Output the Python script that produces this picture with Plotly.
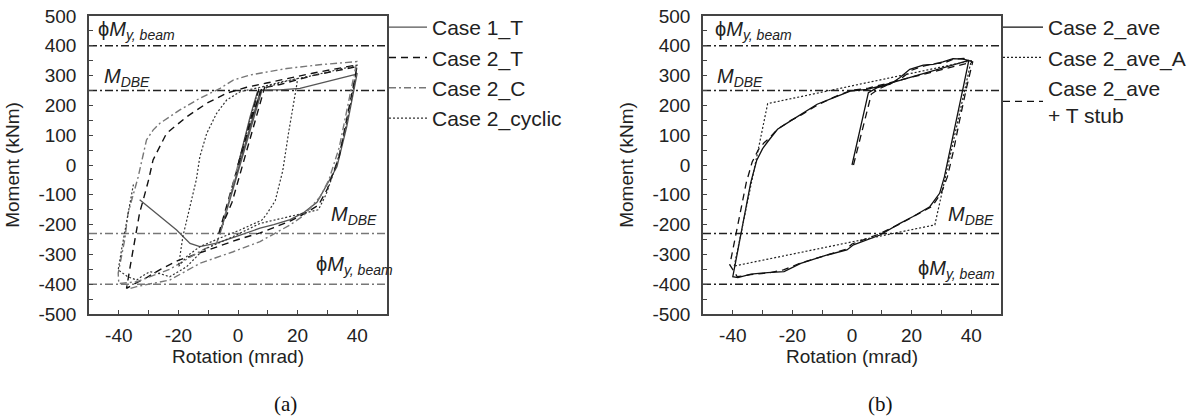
import plotly.graph_objects as go

# ---------------- Panel (a) data ----------------
case1T_x = [0, 2, 4, 6.5, 8, 6, 3, 0, -3, -6, -4, -1, 2, 5, 7.5, 10, 14, 20.8, 30, 38.8, 40,
            38, 36.5, 33.2, 28.7, 26.5, 22, 17.5, 12, 7.4, 0, -7.2, -12.8, -16.1, -20.6, -26.2, -33]
case1T_y = [0, 80, 160, 245, 250, 182, 80, -24, -127, -229, -158, -51, 55, 161, 250, 252, 252, 257, 280, 302, 308,
            206, 129, -6, -84, -125, -160, -183, -200, -212, -238, -262, -274, -263, -218, -173, -117]

case2T_x = [0, 2, 4.5, 7, 9, 7, 4, 1, -2, -6.5, -4.5, -1.5, 1.5, 4.5, 8, 10, 14.1, 25, 39.9,
            39, 37, 34, 30, 27, 22, 17.5, 12, 7.4, 0, -7, -12.8, -20, -26, -31, -35, -37.4,
            -36, -34.5, -33, -31.8, -30, -28.5, -24, -17.2, -10.5, -3.8, 2.9, 9.6, 14.1, 25, 39.9]
case2T_y = [0, 75, 170, 255, 262, 190, 85, -20, -125, -232, -160, -55, 50, 155, 258, 262, 270, 300, 330,
            280, 175, 30, -80, -135, -165, -188, -210, -228, -250, -275, -295, -320, -350, -380, -400, -414,
            -330, -240, -160, -117, -50, 17, 106, 162, 207, 241, 261, 275, 285, 308, 336]

case2C_x = [0, -3, -6, -7.2, -12.8, -22.9, -30, -34, -40, -40.2, -38, -36.9, -33.5, -30.7, -28.5, -26.2,
            -19.5, -12.8, -6, -1.6, 4, 9.6, 16.4, 28, 39.9, 38.5, 36.5, 34, 30.5, 27.6, 22, 17.5, 7.4,
            -1.6, -12.8, -22.9, -34, -36.5]
case2C_y = [0, -115, -232, -262, -290, -350, -378, -392, -398, -363, -250, -162, -40, 84, 117, 140,
            185, 224, 257, 285, 302, 313, 324, 337, 347, 280, 180, 60, -50, -106, -170, -201, -257,
            -291, -330, -386, -408, -415]

cyclic_x = [0, 3, 6.5, 10, 15, 20, 19.7, 17, 15, 12.5, 9.6, 8, 0.7, -6, -12.8, -17, -20,
            -18.5, -16.1, -14, -12.8, -10.5, -7.2, -3.8, 0.7, 8, 15, 25, 40,
            38.5, 36, 33, 29.5, 27, 22, 17.5, 7.4, -1.6, -11.7, -17.2, -22.9, -26, -29.6, -32, -34,
            -37, -40.2, -39, -37, -35]
cyclic_y = [0, 115, 240, 262, 278, 290, 268, 110, -20, -120, -165, -185, -218, -245, -274, -305, -341,
            -240, -140, -50, 28, 106, 173, 218, 246, 262, 280, 300, 335,
            240, 120, 0, -100, -150, -162, -173, -196, -240, -285, -341, -375, -365, -358, -372, -386,
            -375, -352, -280, -170, -60]

# ---------------- Panel (b) data ----------------
ave_x = [0, 2, 4, 5.5, 8.3, 12.8, 16, 19.4, 23.9, 27.2, 30.5, 33.9, 37.2, 39.2,
         37.5, 35, 33, 31, 29.4, 26.1, 20.5, 16.1, 9.4, 0.5, -1.7, -8.3, -17.2, -22.8, -28.3, -33.9, -38.3, -40,
         -38, -36, -34, -32, -30, -28.3, -25, -20.6, -17.2, -11.7, -6.1, -0.6, 5, 10, 39.2]
ave_y = [0, 85, 170, 243, 259, 271, 293, 321, 335, 338, 346, 357, 355, 351,
         269, 150, 50, -40, -95, -140, -173, -196, -235, -268, -285, -302, -330, -358, -361, -366, -378, -375,
         -270, -165, -60, 15, 55, 78, 120, 148, 170, 204, 226, 248, 254, 266, 351]

tstub_x = [0.5, 2.5, 4.5, 6.5, 9, 13, 16.5, 20, 24, 27.5, 31, 34, 37.5, 40.5,
           38.5, 36, 34, 32, 30, 27, 21, 16, 9, 0, -2, -8, -17, -23, -28, -34, -38.5, -41,
           -39.5, -37.5, -35.5, -33.5, -31.5, -29.5, -28, -25, -20.5, -17, -11.5, -6, -0.5, 5.5, 15, 27, 40.5]
tstub_y = [0, 80, 160, 238, 255, 275, 290, 318, 332, 340, 343, 355, 358, 346,
           262, 145, 45, -40, -92, -138, -170, -198, -232, -265, -283, -300, -328, -352, -362, -368, -375, -335,
           -265, -160, -60, 10, 50, 75, 88, 120, 150, 168, 202, 228, 250, 258, 282, 312, 346]

aveA_x = [-39.5, -28.3, 40, 27.8, -39.5]
aveA_y = [-339, 206, 350, -201, -339]

# Reference levels (kNm)
ref_x = [-50, 50]
phiMy_pos, mdbe_pos, mdbe_neg, phiMy_neg = 400, 250, -230, -400

x_ticks = [-40, -20, 0, 20, 40]
x_ticktext = ["-40", "-20", "0", "20", "40"]
y_ticks = [-500, -400, -300, -200, -100, 0, 100, 200, 300, 400, 500]
y_ticktext = ["-500", "-400", "-300", "-200", "-100", "0", "100", "200", "300", "400", "500"]

FONT = "Liberation Sans, Arial, sans-serif"
fig = go.Figure()

def ref_line(xa, ya, yval, color):
    fig.add_trace(go.Scatter(x=ref_x, y=[yval, yval], mode="lines", xaxis=xa, yaxis=ya,
                             line=dict(color=color, width=1.5, dash="8px,3px,2px,3px"),
                             showlegend=False, hoverinfo="skip"))

# panel (a)
ref_line("x", "y", phiMy_pos, "#222")
ref_line("x", "y", mdbe_pos, "#222")
ref_line("x", "y", mdbe_neg, "#777")
ref_line("x", "y", phiMy_neg, "#777")

fig.add_trace(go.Scatter(x=case1T_x, y=case1T_y, name="Case 1_T", mode="lines", xaxis="x", yaxis="y",
                         line=dict(color="#555", width=1.3), legend="legend"))
fig.add_trace(go.Scatter(x=case2T_x, y=case2T_y, name="Case 2_T", mode="lines", xaxis="x", yaxis="y",
                         line=dict(color="#111", width=1.4, dash="7px,5px"), legend="legend"))
fig.add_trace(go.Scatter(x=case2C_x, y=case2C_y, name="Case 2_C", mode="lines", xaxis="x", yaxis="y",
                         line=dict(color="#777", width=1.4, dash="7px,3px,2px,3px"), legend="legend"))
fig.add_trace(go.Scatter(x=cyclic_x, y=cyclic_y, name="Case 2_cyclic", mode="lines", xaxis="x", yaxis="y",
                         line=dict(color="#333", width=1.2, dash="2px,2px"), legend="legend"))

# panel (b)
for v in [phiMy_pos, mdbe_pos, mdbe_neg, phiMy_neg]:
    ref_line("x2", "y2", v, "#222")

fig.add_trace(go.Scatter(x=ave_x, y=ave_y, name="Case 2_ave", mode="lines", xaxis="x2", yaxis="y2",
                         line=dict(color="#111", width=1.3), legend="legend2"))
fig.add_trace(go.Scatter(x=aveA_x, y=aveA_y, name="Case 2_ave_A", mode="lines", xaxis="x2", yaxis="y2",
                         line=dict(color="#222", width=1.2, dash="2px,2px"), legend="legend2"))
fig.add_trace(go.Scatter(x=tstub_x, y=tstub_y, name="Case 2_ave<br>+ T stub", mode="lines", xaxis="x2", yaxis="y2",
                         line=dict(color="#111", width=1.3, dash="7px,5px"), legend="legend2"))

axis_common = dict(showline=True, linecolor="#444", linewidth=1.5, mirror=True, ticks="inside",
                   ticklen=4, tickwidth=1.3, tickcolor="#444", showgrid=False, zeroline=False,
                   automargin=False,
                   tickfont=dict(family=FONT, size=19, color="#222"),
                   minor=dict(ticks="inside", ticklen=4, tickwidth=1.3, tickcolor="#444", showgrid=False))

xa = dict(axis_common, range=[-50, 50], tickvals=x_ticks, ticktext=x_ticktext, ticklabelstandoff=3,
          title=dict(text="Rotation (mrad)", font=dict(family=FONT, size=19, color="#222"), standoff=4))
xa["minor"] = dict(axis_common["minor"], dtick=10, tick0=0)
ya = dict(axis_common, range=[-500, 500], tickvals=y_ticks, ticktext=y_ticktext, ticklabelstandoff=7,
          title=dict(text="Moment (kNm)", font=dict(family=FONT, size=19, color="#222"), standoff=14))
ya["minor"] = dict(axis_common["minor"], dtick=50, tick0=0)

W, H = 1196, 416
def dom(p0, p1, total):
    return [p0 / total, p1 / total]

fig.update_layout(
    width=W, height=H, margin=dict(l=0, r=0, t=0, b=0, autoexpand=False),
    paper_bgcolor="white", plot_bgcolor="white",
    xaxis=dict(xa, domain=dom(89, 387, W), anchor="y"),
    yaxis=dict(ya, domain=[1 - 314 / H, 1 - 16 / H], anchor="x"),
    xaxis2=dict(xa, domain=dom(703, 1001, W), anchor="y2"),
    yaxis2=dict(ya, domain=[1 - 314 / H, 1 - 16 / H], anchor="x2"),
    legend=dict(x=384 / W, y=1 - 7 / H, xanchor="left", yanchor="top", bgcolor="rgba(0,0,0,0)",
                font=dict(family=FONT, size=21, color="#222"), tracegroupgap=0, itemwidth=38),
    legend2=dict(x=998 / W, y=1 - 7 / H, xanchor="left", yanchor="top", bgcolor="rgba(0,0,0,0)",
                 font=dict(family=FONT, size=21, color="#222"), tracegroupgap=0, itemwidth=40),
    showlegend=True,
)

ann_font = dict(family=FONT, size=20, color="#222")
phi_txt = "\u03d5<i>M</i><sub><i>y, beam</i></sub>"
mdbe_txt = "<i>M</i><sub><i>DBE</i></sub>"
anns = [
    ("x", "y", -47.5, 452, phi_txt),
    ("x", "y", -45.5, 292, mdbe_txt),
    ("x", "y", 30.5, -168, mdbe_txt),
    ("x", "y", 25.5, -336, phi_txt),
    ("x2", "y2", -46.5, 452, phi_txt),
    ("x2", "y2", -46, 292, mdbe_txt),
    ("x2", "y2", 31.5, -170, mdbe_txt),
    ("x2", "y2", 21.5, -350, phi_txt),
]
for xr, yr, ax_, ay_, t in anns:
    fig.add_annotation(x=ax_, y=ay_, xref=xr, yref=yr, text=t, showarrow=False,
                       xanchor="left", yanchor="middle", font=ann_font)

cap_font = dict(family="Liberation Serif, Times New Roman, serif", size=21, color="#111")
fig.add_annotation(x=285 / W, y=1 - 404 / H, xref="paper", yref="paper", text="(a)", showarrow=False,
                   xanchor="center", yanchor="middle", font=cap_font)
fig.add_annotation(x=880 / W, y=1 - 404 / H, xref="paper", yref="paper", text="(b)", showarrow=False,
                   xanchor="center", yanchor="middle", font=cap_font)

fig.write_html("out.html", config={"displayModeBar": False},
               post_script="document.body.style.margin='0';document.body.style.overflow='hidden';")
